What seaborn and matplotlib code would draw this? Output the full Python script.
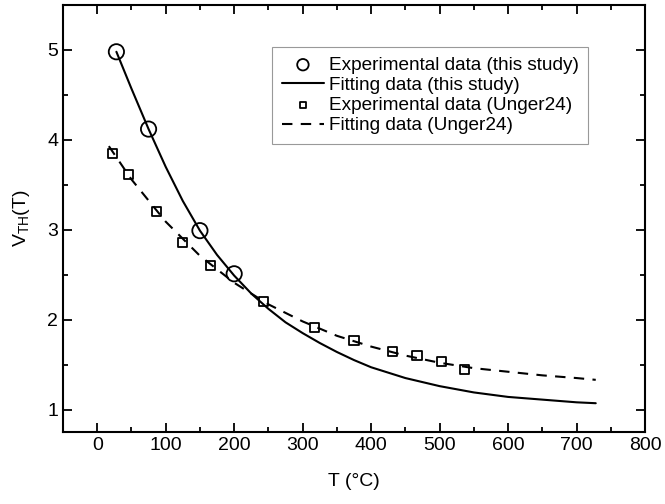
import numpy as np
import pandas as pd
import matplotlib
matplotlib.use('Agg')
import matplotlib.pyplot as plt
import seaborn as sns

# Experimental data (this study)
t_exp = [28, 75, 150, 200]
v_exp = [4.98, 4.12, 2.99, 2.51]

# Fitting curve (this study)
t_fit = [28, 50, 75, 100, 125, 150, 175, 200, 225, 250, 275, 300, 325, 350,
         375, 400, 450, 500, 550, 600, 650, 700, 728]
v_fit = [4.98, 4.57, 4.12, 3.70, 3.32, 2.99, 2.72, 2.49, 2.29, 2.12, 1.97,
         1.85, 1.74, 1.64, 1.55, 1.47, 1.35, 1.26, 1.19, 1.14, 1.11, 1.08, 1.07]

# Experimental data (Unger24)
t_ung = [23, 45, 86, 125, 165, 243, 317, 375, 431, 467, 503, 537]
v_ung = [3.85, 3.61, 3.20, 2.86, 2.60, 2.20, 1.91, 1.77, 1.65, 1.60, 1.53, 1.44]

# Fitting curve (Unger24)
t_ufit = [17, 50, 100, 150, 200, 250, 300, 350, 400, 450, 500, 550, 600,
          650, 700, 728]
v_ufit = [3.93, 3.56, 3.09, 2.71, 2.41, 2.17, 1.98, 1.82, 1.70, 1.60, 1.52,
          1.46, 1.42, 1.38, 1.35, 1.33]

sns.set_theme(style='ticks')
plt.rcParams['font.family'] = ['Liberation Sans', 'DejaVu Sans']
plt.rcParams['mathtext.fontset'] = 'custom'
plt.rcParams['mathtext.rm'] = 'Liberation Sans'
plt.rcParams['mathtext.it'] = 'Liberation Sans'
plt.rcParams['text.color'] = 'black'
plt.rcParams['axes.labelcolor'] = 'black'

fig = plt.figure(figsize=(6.65, 5.04), dpi=100)
ax = fig.add_axes([0.0947, 0.1429, 0.8753, 0.8471])

sns.scatterplot(x=t_exp, y=v_exp, ax=ax, marker='o', s=11**2, fc='none',
                ec='black', linewidth=1.3, label='Experimental data (this study)', zorder=3)
sns.lineplot(x=t_fit, y=v_fit, ax=ax, color='black', lw=1.5, sort=False,
             label='Fitting data (this study)')
sns.scatterplot(x=t_ung, y=v_ung, ax=ax, marker='s', s=6.5**2, fc='none',
                ec='black', linewidth=1.3, label='Experimental data (Unger24)', zorder=3)
sns.lineplot(x=t_ufit, y=v_ufit, ax=ax, color='black', lw=1.5, sort=False,
             label='Fitting data (Unger24)')
ax.lines[-1].set_dashes([5, 4])

ax.set_xlim(-50, 800)
ax.set_ylim(0.75, 5.5)
ax.set_xticks(np.arange(0, 801, 100))
ax.set_yticks([1, 2, 3, 4, 5])
ax.set_xticks(np.arange(-50, 801, 50), minor=True)
ax.set_yticks(np.arange(1, 5.51, 0.5), minor=True)
ax.tick_params(which='both', direction='in', top=True, right=True,
               width=1.3, colors='black', labelsize=14)
ax.tick_params(which='major', length=6.5)
ax.tick_params(which='minor', length=3.5)
for s in ax.spines.values():
    s.set_linewidth(1.5)
    s.set_color('black')

ax.set_xlabel('T (°C)', fontsize=14, labelpad=14)
ax.set_ylabel(r'V$_{\mathrm{TH}}$(T)', fontsize=14, labelpad=11)

leg = ax.legend(loc='upper right', bbox_to_anchor=(0.902, 0.902), fontsize=13.7,
                frameon=True, fancybox=False, edgecolor='gray', markerscale=0.75,
                handlelength=2.2, handletextpad=0.25, borderpad=0.5,
                labelspacing=0.15, borderaxespad=0)
leg.get_frame().set_linewidth(0.8)

fig.savefig('out.png', dpi=100)
